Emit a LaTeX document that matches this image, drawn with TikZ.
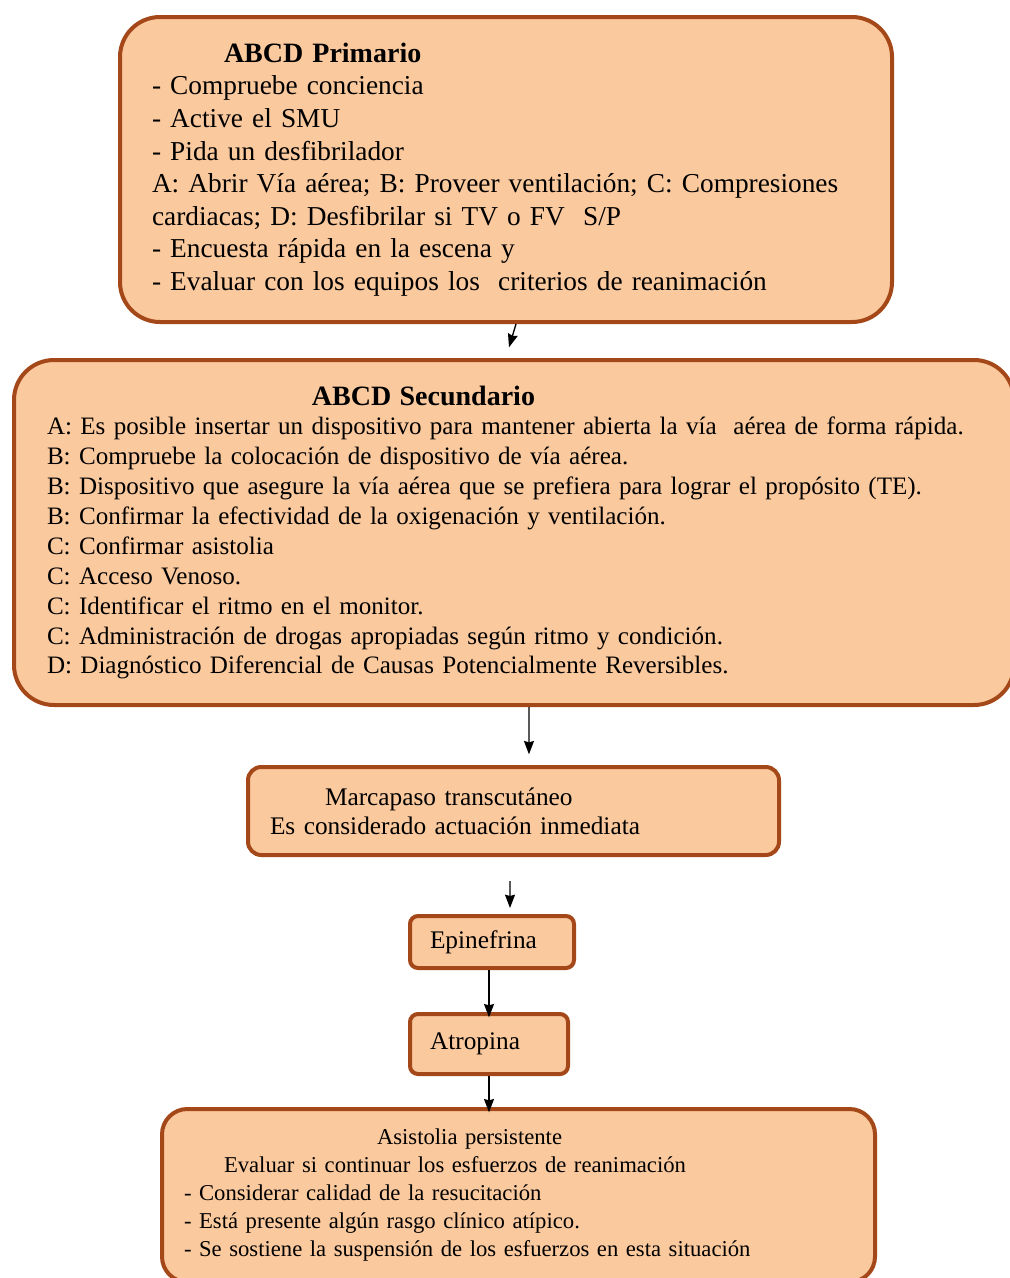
\documentclass[tikz,border=0pt]{standalone}
\usepackage{fontspec}
\setmainfont{Liberation Serif}
\usetikzlibrary{arrows.meta}
\definecolor{peach}{RGB}{251,201,158}
\definecolor{rust}{RGB}{165,72,25}
\newcommand{\titulo}[1]{{\fontsize{21}{24}\selectfont\bfseries #1}}

\begin{document}
\begin{tikzpicture}[x=0.75pt,y=-0.75pt,->,>={Stealth[length=10pt,width=7.5pt,inset=1pt]},line width=1pt,
    caja/.style={draw=rust,fill=peach,line width=3pt,rounded corners=#1,
      anchor=north west,align=left,inner ysep=0pt}]
  \useasboundingbox (0,0) rectangle (1010,1278);

  \node[caja=30pt,inner xsep=24pt,text width=531pt,minimum height=228.75pt,
        font=\fontsize{20.5}{24.4}\selectfont] (prim) at (118,15)
    {\hspace*{54pt}\titulo{ABCD Primario}\\
     - Compruebe conciencia\\
     - Active el SMU\\
     - Pida un desfibrilador\\
     A: Abrir Vía aérea; B: Proveer ventilación; C: Compresiones\\
     cardiacas; D: Desfibrilar si TV o FV \ S/P\\
     - Encuesta rápida en la escena y\\
     - Evaluar con los equipos los \ criterios de reanimación};
  \node[caja=30pt,inner xsep=24.75pt,text width=700.5pt,minimum height=258.75pt,
        font=\fontsize{18.8}{22.4}\selectfont] (sec) at (12,358)
    {\hspace*{198.75pt}\titulo{ABCD Secundario}\\
     A: Es posible insertar un dispositivo para mantener abierta la vía \ aérea de forma rápida.\\
     B: Compruebe la colocación de dispositivo de vía aérea.\\
     B: Dispositivo que asegure la vía aérea que se prefiera para lograr el propósito (TE).\\
     B: Confirmar la efectividad de la oxigenación y ventilación.\\
     C: Confirmar asistolia\\
     C: Acceso Venoso.\\
     C: Identificar el ritmo en el monitor.\\
     C: Administración de drogas apropiadas según ritmo y condición.\\
     D: Diagnóstico Diferencial de Causas Potencialmente Reversibles.};
  \node[caja=10pt,inner xsep=16.5pt,text width=365.25pt,minimum height=66pt,
        font=\fontsize{19}{21.75}\selectfont] (marca) at (246,765)
    {\hspace*{41.25pt}Marcapaso transcutáneo\\
     Es considerado actuación inmediata};
  \node[caja=6pt,inner xsep=15pt,text width=93pt,minimum height=39pt,
        font=\fontsize{19}{22}\selectfont] (epi) at (408,914) {Epinefrina};
  \node[caja=6pt,inner xsep=15pt,text width=88.5pt,minimum height=45pt,
        font=\fontsize{19}{22}\selectfont] (atro) at (408,1012) {Atropina};
  \node[caja=19pt,inner xsep=16.5pt,text width=501.75pt,minimum height=129.75pt,
        font=\fontsize{17}{21}\selectfont] (asis) at (160,1107)
    {\hspace*{144.75pt}Asistolia persistente\\
     \hspace*{30pt}Evaluar si continuar los esfuerzos de reanimación\\
     - Considerar calidad de la resucitación\\
     - Está presente algún rasgo clínico atípico.\\
     - Se sostiene la suspensión de los esfuerzos en esta situación};

  \draw ([xshift=7.5pt]prim.south) -- ([xshift=-3.75pt,yshift=8pt]sec.north);
  \draw ([xshift=11.25pt]sec.south) -- ([xshift=11.6pt,yshift=8pt]marca.north);
  \draw[shorten <=18pt] ([xshift=-2.6pt]marca.south) -- ([xshift=13.5pt,yshift=4.5pt]epi.north);
  \draw[shorten >=-4pt] ([xshift=-2.25pt]epi.south) -- (atro.north);
  \draw[shorten >=-4pt] (atro.south) -- (atro.south |- asis.north);
\end{tikzpicture}
\end{document}
